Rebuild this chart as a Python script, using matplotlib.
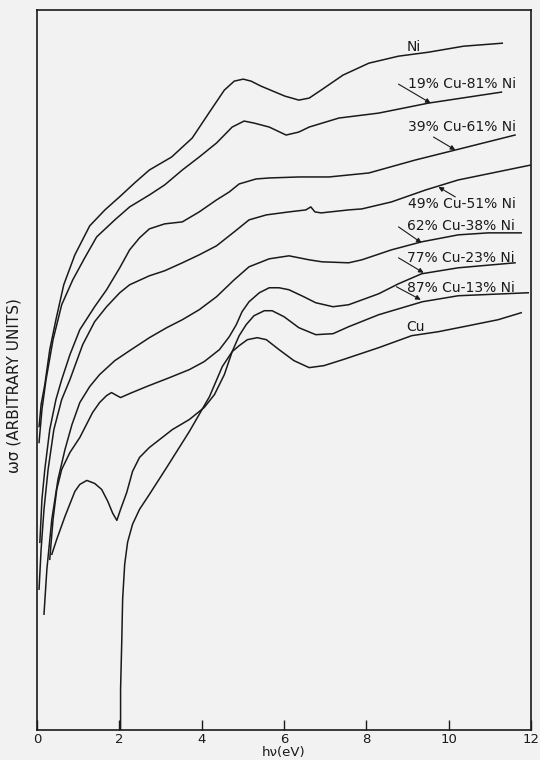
import numpy as np
import matplotlib
matplotlib.use('Agg')
import matplotlib.pyplot as plt

# photon energy (eV) and w*sigma (arbitrary units)
ni_x = [0.05,0.10,0.19,0.31,0.46,0.65,0.92,1.28,1.65,2.03,2.37,2.73,3.27,3.77,4.19,4.55,4.79,5.01,5.20,5.44,6.02,6.36,6.61,6.90,7.43,8.06,8.78,9.51,10.36,11.30]
ni_y = [304,326,346,381,411,446,476,505,521,535,548,561,574,593,619,641,650,652,650,645,635,631,633,641,656,668,675,679,685,688]

cu19_x = [0.05,0.12,0.22,0.39,0.60,0.87,1.16,1.45,1.89,2.25,2.73,3.10,3.53,3.94,4.36,4.74,5.03,5.27,5.64,6.05,6.36,6.61,7.33,8.30,9.51,11.28]
cu19_y = [288,321,351,391,426,451,473,494,511,524,536,546,561,574,588,604,610,608,604,596,599,604,613,618,628,639]

cu39_x = [0.07,0.12,0.19,0.31,0.46,0.60,0.80,1.04,1.40,1.69,2.01,2.25,2.49,2.73,3.10,3.53,3.94,4.36,4.67,4.91,5.32,5.64,6.36,7.09,8.06,9.19,10.16,11.61]
cu39_y = [188,231,261,301,331,351,376,401,424,441,463,481,493,502,507,509,519,531,539,547,552,553,554,554,558,571,581,596]

cu49_x = [0.05,0.10,0.17,0.27,0.41,0.60,0.80,1.11,1.40,1.69,2.01,2.25,2.73,3.10,3.53,3.94,4.36,4.79,5.15,5.57,6.12,6.53,6.65,6.75,6.90,7.57,7.89,8.61,9.44,10.23,12.0]
cu49_y = [141,181,221,261,301,331,351,386,409,424,438,446,455,460,468,476,485,499,511,516,519,521,524,519,518,521,522,529,541,551,566]

cu62_x = [0.17,0.24,0.36,0.51,0.68,0.85,1.04,1.28,1.52,1.89,2.25,2.73,3.15,3.53,3.94,4.36,4.79,5.15,5.64,6.12,6.61,6.92,7.57,7.89,8.61,9.34,10.23,10.96,11.76]
cu62_y = [116,161,211,251,281,306,328,344,356,370,380,393,403,411,421,434,451,464,472,475,471,469,468,471,481,489,496,498,498]

cu77_x = [0.31,0.39,0.48,0.60,0.80,1.04,1.35,1.52,1.69,1.81,1.94,2.03,2.25,2.66,3.22,3.70,4.06,4.43,4.67,4.84,4.98,5.15,5.40,5.64,5.88,6.12,6.48,6.77,7.19,7.57,8.30,8.78,9.34,10.23,11.61]
cu77_y = [171,211,241,261,278,293,318,328,335,338,335,333,337,344,353,361,369,381,394,406,419,429,438,443,443,441,434,428,424,426,437,447,457,463,468]

cu87_x = [0.36,0.48,0.68,0.92,1.04,1.21,1.40,1.57,1.72,1.84,1.94,2.03,2.18,2.32,2.49,2.73,3.29,3.70,4.06,4.31,4.55,4.74,4.91,5.08,5.27,5.52,5.71,6.00,6.36,6.77,7.19,7.57,8.30,9.36,10.23,11.93]
cu87_y = [176,191,214,239,246,250,247,241,229,217,210,221,238,259,273,283,301,311,323,336,356,379,395,406,415,420,420,414,403,396,397,404,416,429,435,438]

cu_x = [2.03,2.03,2.06,2.08,2.13,2.20,2.32,2.49,2.73,3.15,3.70,4.19,4.50,4.74,4.91,5.11,5.35,5.57,5.88,6.24,6.61,6.97,7.43,8.30,9.10,9.75,10.48,11.20,11.76]
cu_y = [0,41,91,131,166,188,206,221,236,263,299,334,364,379,385,391,393,391,381,370,363,365,371,383,395,399,405,411,418]

curves = [(ni_x, ni_y), (cu19_x, cu19_y), (cu39_x, cu39_y), (cu49_x, cu49_y),
          (cu62_x, cu62_y), (cu77_x, cu77_y), (cu87_x, cu87_y), (cu_x, cu_y)]

# labels: text, text position, leader start, leader end (on the curve)
labels = ['19% Cu-81% Ni', '39% Cu-61% Ni', '49% Cu-51% Ni',
          '62% Cu-38% Ni', '77% Cu-23% Ni', '87% Cu-13% Ni']
label_pos = [(9.02, 647), (9.02, 604), (9.02, 527), (8.98, 505), (8.98, 473), (8.98, 443)]
leader_from = [(8.78, 647), (9.63, 594), (10.16, 534), (8.78, 504), (8.78, 473), (8.73, 444)]
leader_to = [(9.56, 628), (10.16, 581), (9.75, 544), (9.34, 488), (9.39, 458), (9.32, 431)]

bg = '#f2f2f2'
ink = '#1a1a1a'
fig = plt.figure(figsize=(5.4, 7.6), dpi=100, facecolor=bg)
ax = fig.add_axes([0.0685, 0.0395, 0.915, 0.947], facecolor=bg)

for cx, cy in curves:
    ax.plot(cx, cy, color=ink, lw=1.1)

ax.text(9.15, 684, 'Ni', fontsize=10, ha='center', va='center', color=ink)
ax.text(9.19, 404, 'Cu', fontsize=10, ha='center', va='center', color=ink)
for i in range(len(labels)):
    ax.text(label_pos[i][0], label_pos[i][1], labels[i], fontsize=10,
            ha='left', va='center', color=ink)
    ax.annotate('', xy=leader_to[i], xytext=leader_from[i],
                arrowprops=dict(arrowstyle='-|>', lw=0.8, color=ink,
                                mutation_scale=7, shrinkA=0, shrinkB=0))

ax.set_xlim(0, 12)
ax.set_ylim(0, 721)
ax.set_xticks([0, 2, 4, 6, 8, 10, 12])
ax.set_yticks([])
ax.tick_params(axis='x', direction='in', length=7, width=1, pad=2,
               labelsize=9.5, colors=ink)
for s in ax.spines.values():
    s.set_linewidth(1.2)
    s.set_color(ink)
ax.set_xlabel('h\u03bd(eV)', fontsize=9.5, labelpad=0, color=ink)
ax.set_ylabel('\u03c9\u03c3 (ARBITRARY UNITS)', fontsize=11, color=ink)
ax.yaxis.set_label_coords(-0.032, 0.478)

fig.savefig('out.png', dpi=100, facecolor=bg)
